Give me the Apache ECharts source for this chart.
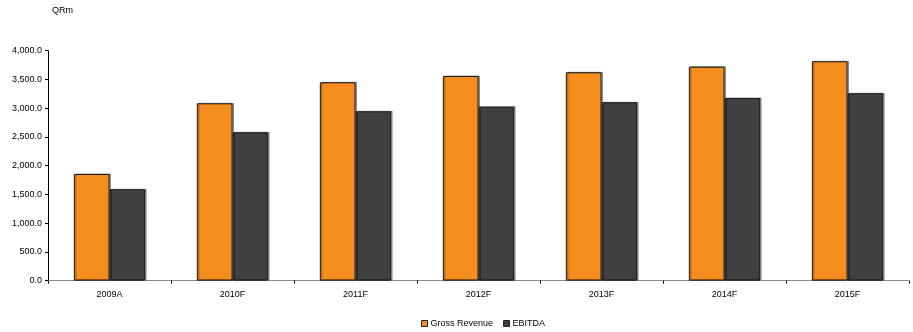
<!DOCTYPE html>
<html><head><meta charset="utf-8">
<script src="https://cdn.jsdelivr.net/npm/echarts@6/dist/echarts.min.js"></script>
<style>html,body{margin:0;padding:0;background:#fff}#c{width:913px;height:332px}</style>
</head><body><div id="c"></div>
<script>
const categories = ['2009A','2010F','2011F','2012F','2013F','2014F','2015F'];
const grossRevenue = [1856, 3085, 3450, 3560, 3624, 3722, 3816];
const ebitda = [1590, 2581, 2946, 3026, 3103, 3177, 3259];
const unitLabel = 'QRm';

const chart = echarts.init(document.getElementById('c'));
const font = 'Liberation Sans, Arial, sans-serif';
const fmt = v => v.toLocaleString('en-US',{minimumFractionDigits:1,maximumFractionDigits:1});
const barStyle = c => ({color:c, borderColor:'#1a1a1a', borderWidth:1, shadowColor:'rgba(0,0,0,0.35)', shadowOffsetX:1.5, shadowOffsetY:-0.5, shadowBlur:0});
chart.setOption({
  animation:false,
  textStyle:{fontFamily:font},
  graphic:[{type:'text', left:52, top:6, style:{text:unitLabel, font:'9px '+font, fill:'#000'}}],
  grid:{left:48, right:4, top:50.7, bottom:51.3, containLabel:false},
  legend:{top:314, left:416, itemWidth:6, itemHeight:6, itemGap:10, icon:'rect',
    textStyle:{fontSize:9, color:'#000', fontFamily:font, padding:[0,0,0,-2]},
    data:[{name:'Gross Revenue', itemStyle:{borderColor:'#222', borderWidth:1}},{name:'EBITDA', itemStyle:{borderColor:'#222', borderWidth:1}}]},
  xAxis:{type:'category', data:categories,
    axisLine:{lineStyle:{color:'#888', width:1}},
    axisTick:{show:true, length:3, lineStyle:{color:'#000'}},
    axisLabel:{fontSize:9, color:'#000', margin:9, fontFamily:font}},
  yAxis:{type:'value', min:0, max:4000, interval:500,
    axisLine:{show:true, lineStyle:{color:'#000', width:1}},
    axisTick:{show:true, length:3, lineStyle:{color:'#000'}},
    splitLine:{show:false},
    axisLabel:{fontSize:9, color:'#000', margin:6, fontFamily:font, formatter:fmt}},
  series:[
    {name:'Gross Revenue', type:'bar', data:grossRevenue, barWidth:'29%', barGap:'0%', itemStyle:barStyle('#F58D1F')},
    {name:'EBITDA', type:'bar', data:ebitda, barWidth:'29%', barGap:'0%', itemStyle:barStyle('#404040')}
  ]
});
</script></body></html>
